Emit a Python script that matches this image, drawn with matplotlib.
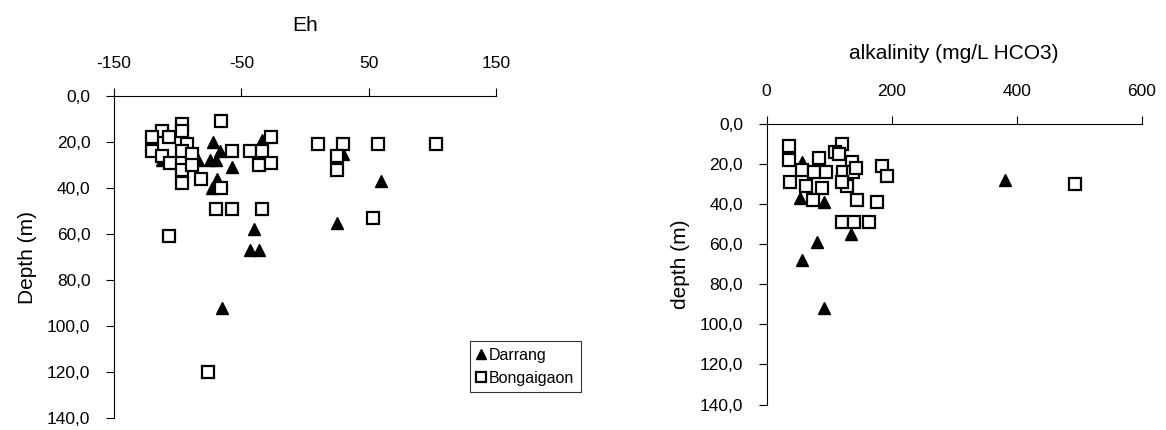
import numpy as np
import matplotlib.pyplot as plt
from matplotlib.ticker import FuncFormatter

plt.rcParams['font.family'] = ['Liberation Sans', 'DejaVu Sans']
plt.rcParams['axes.unicode_minus'] = False

# Eh vs depth
eh_darrang = [-72, -34, -84, -75, -67, -70, -57, -69, -73, -112, 30, 60, -40, -43, -36, 25, -65]
dep_eh_darrang = [20, 19, 28, 28, 24, 28, 31, 36, 40, 28, 25, 37, 58, 67, 67, 55, 92]

eh_bong = [-66, -97, -97, -112, -120, -107, -120, -112, -93, -97, -89, -106, -97, -89,
           -97, -82, -66, -57, -43, -34, -27, -36, -27, 10, 30, 25, 25, 57, 103,
           -70, -57, -34, 53, -107, -76]
dep_eh_bong = [11, 12, 15, 15, 18, 18, 24, 26, 21, 24, 25, 29, 32, 30,
               38, 36, 40, 24, 24, 24, 18, 30, 29, 21, 21, 26, 32, 21, 21,
               49, 49, 49, 53, 61, 120]

# alkalinity vs depth
alk_darrang = [56, 53, 91, 81, 56, 135, 92, 381]
dep_alk_darrang = [19, 37, 39, 59, 68, 55, 92, 28]

alk_bong = [36, 36, 84, 120, 109, 115, 136, 56, 75, 95, 122, 138, 143, 184, 192,
            37, 63, 88, 129, 120, 74, 144, 177, 120, 139, 164, 493]
dep_alk_bong = [11, 18, 17, 10, 14, 15, 19, 23, 24, 24, 24, 24, 22, 21, 26,
                29, 31, 32, 31, 29, 38, 38, 39, 49, 49, 49, 30]

fig = plt.figure(figsize=(11.66, 4.30), dpi=100)
ax1 = fig.add_axes([0.0978, 0.0279, 0.3276, 0.7488])
ax2 = fig.add_axes([0.6575, 0.0593, 0.3216, 0.6512])

fmt = FuncFormatter(lambda v, p: ('%.1f' % v).replace('.', ','))

def style(ax):
    ax.xaxis.tick_top()
    ax.xaxis.set_label_position('top')
    ax.spines['bottom'].set_visible(False)
    ax.spines['right'].set_visible(False)
    ax.spines['top'].set_linewidth(0.8)
    ax.spines['left'].set_linewidth(0.8)
    ax.tick_params(direction='out', length=6, width=0.8, labelsize=12.5)
    ax.tick_params(axis='x', pad=12)
    ax.tick_params(axis='y', pad=11)
    ax.set_ylim(140, 0)
    ax.set_yticks(np.arange(0, 141, 20))
    ax.yaxis.set_major_formatter(fmt)

h1, = ax1.plot(eh_darrang, dep_eh_darrang, '^', color='black', ms=9, ls='none', label='Darrang')
h2, = ax1.plot(eh_bong, dep_eh_bong, 's', mfc='white', mec='black', mew=1.6, ms=8, ls='none', label='Bongaigaon')
style(ax1)
ax1.set_xlim(-150, 150)
ax1.set_xticks([-150, -50, 50, 150])
ax1.set_xlabel('Eh', fontsize=15, labelpad=18)
ax1.set_ylabel('Depth (m)', fontsize=15, labelpad=7)

ax2.plot(alk_darrang, dep_alk_darrang, '^', color='black', ms=9, ls='none')
ax2.plot(alk_bong, dep_alk_bong, 's', mfc='white', mec='black', mew=1.6, ms=8, ls='none')
style(ax2)
ax2.set_xlim(0, 600)
ax2.set_xticks([0, 200, 400, 600])
ax2.set_xlabel('alkalinity (mg/L HCO3)', fontsize=15, labelpad=18)
ax2.set_ylabel('depth (m)', fontsize=15, labelpad=7)

leg = fig.legend(handles=[h1, h2], loc='lower left', bbox_to_anchor=(0.403, 0.088, 0.101, 0.121),
                 frameon=True, fancybox=False, edgecolor='black', fontsize=11.5,
                 handlelength=0.6, handletextpad=0.2, borderpad=0.4, labelspacing=0.5,
                 markerscale=0.85, borderaxespad=0)
leg.get_frame().set_linewidth(0.8)

plt.savefig('out.png', dpi=100)
